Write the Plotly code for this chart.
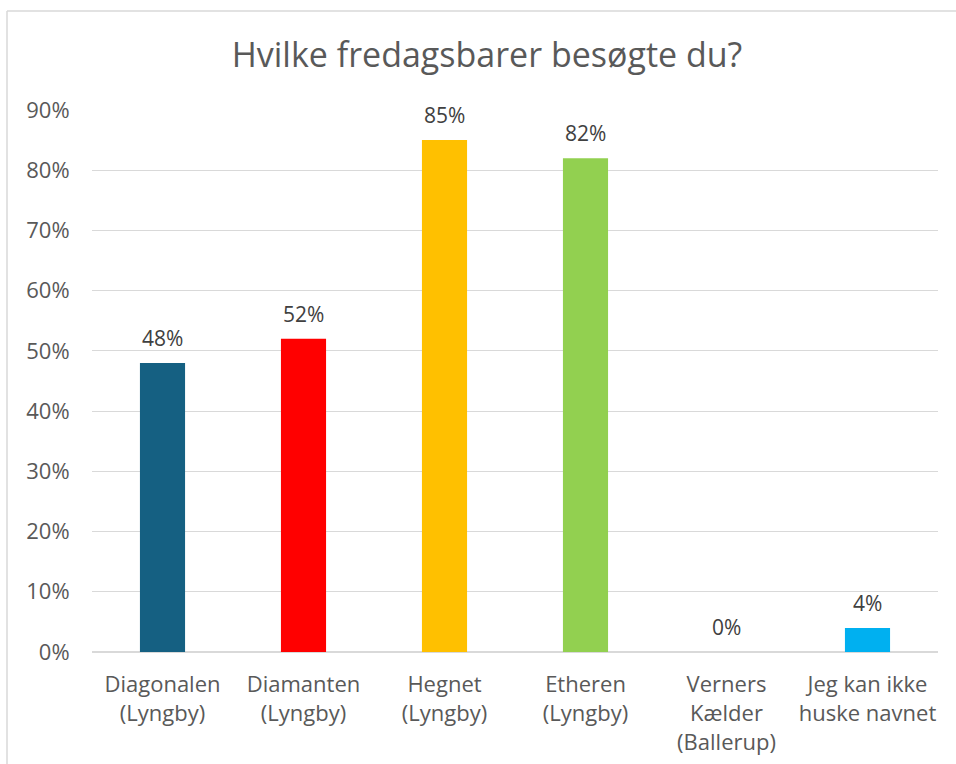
import plotly.graph_objects as go

categories = ["Diagonalen<br>(Lyngby)", "Diamanten<br>(Lyngby)", "Hegnet<br>(Lyngby)",
              "Etheren<br>(Lyngby)", "Verners<br>Kælder<br>(Ballerup)", "Jeg kan ikke<br>huske navnet"]
values = [0.48, 0.52, 0.85, 0.82, 0.0, 0.04]
colors = ["#156082", "#FF0000", "#FFC000", "#92D050", "#A02B93", "#00B0F0"]
y_ticks = [0, 0.1, 0.2, 0.3, 0.4, 0.5, 0.6, 0.7, 0.8, 0.9]
title_text = "Hvilke fredagsbarer besøgte du?"

FONT = "Open Sans"
GREY = "#595959"

# body margin is removed via post_script, so figure fills the window
W, H = 956, 764
L = 92
R = W - 938
T = 110
B = H - 652
pw, ph = W - L - R, H - T - B

fig = go.Figure()
fig.add_trace(go.Bar(x=categories, y=values, marker=dict(color=colors, line=dict(width=0)),
                     width=0.32, showlegend=False, hoverinfo="skip"))

for c, v in zip(categories, values):
    fig.add_annotation(x=c, y=v, text=f"{round(v*100)}%", showarrow=False,
                       yanchor="middle", yshift=25,
                       font=dict(family=FONT, size=21, color="#404040"))

# outer chart border (left and top edges visible in the crop)
bx0 = (7 - L) / pw
by1 = 1 + (T - 11) / ph
fig.add_shape(type="line", xref="paper", yref="paper", x0=bx0, x1=bx0, y0=-0.5, y1=by1,
              line=dict(color="#d9d9d9", width=1.5), layer="below")
fig.add_shape(type="line", xref="paper", yref="paper", x0=bx0, x1=1.2, y0=by1, y1=by1,
              line=dict(color="#d9d9d9", width=1.5), layer="below")

fig.update_layout(
    width=W, height=H,
    margin=dict(l=L, r=R, t=T, b=B, autoexpand=False),
    paper_bgcolor="white", plot_bgcolor="white",
    title=dict(text=title_text, x=487 / W, xanchor="center", y=1 - 55 / H,
               yanchor="middle", xref="container", yref="container",
               font=dict(family=FONT, size=34, color=GREY)),
    xaxis=dict(showgrid=False, showline=False, ticks="outside", ticklen=13, automargin=False,
               tickcolor="rgba(0,0,0,0)", tickfont=dict(family=FONT, size=22, color=GREY)),
    yaxis=dict(range=[0, 0.9], tickvals=y_ticks, tickformat=".0%", showgrid=True, automargin=False,
               gridcolor="#d9d9d9", gridwidth=1, zeroline=True, zerolinecolor="#d9d9d9",
               zerolinewidth=2, showline=False, ticks="outside", ticklen=17,
               tickcolor="rgba(0,0,0,0)", tickfont=dict(family=FONT, size=22, color=GREY)),
    bargap=0.68,
)

fig.write_html("out.html", config={"displayModeBar": False},
               post_script="document.body.style.margin='0';document.body.style.overflow='hidden';")
